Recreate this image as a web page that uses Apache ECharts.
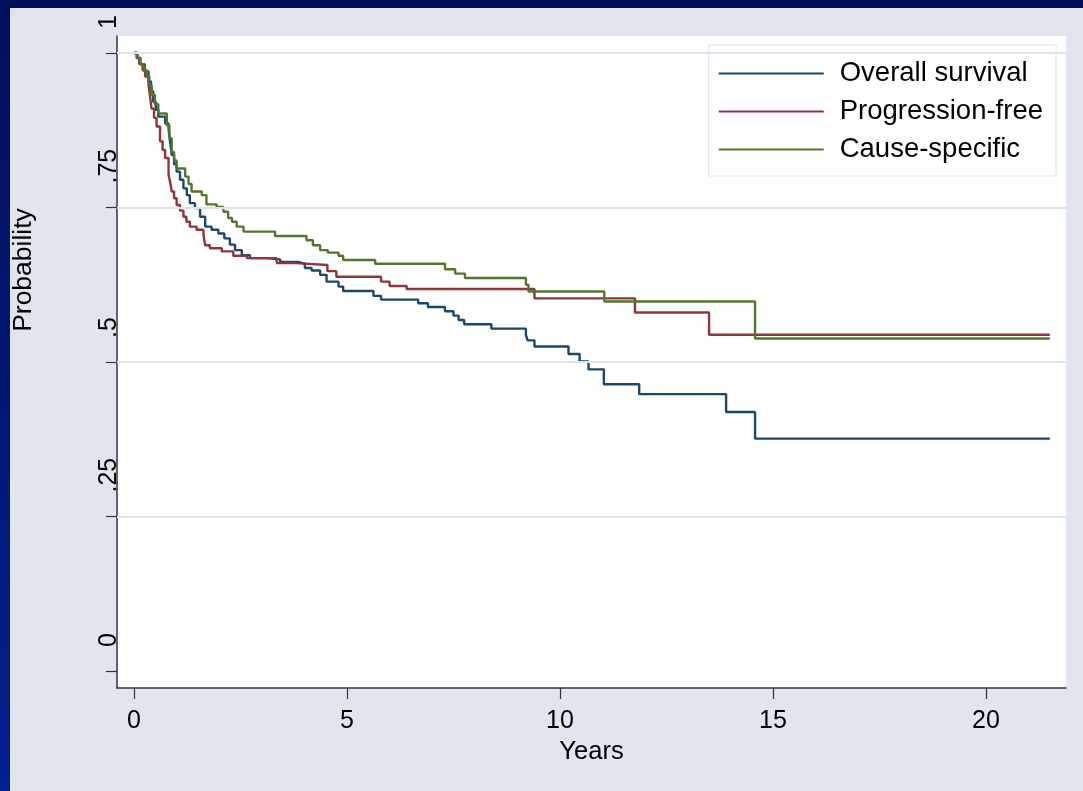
<!DOCTYPE html>
<html>
<head>
<meta charset="utf-8">
<script src="https://cdn.jsdelivr.net/npm/echarts@6/dist/echarts.min.js"></script>
<style>
  html, body { margin: 0; padding: 0; width: 1083px; height: 791px; overflow: hidden; background: #e0e5f0; }
  #topband { position: absolute; left: 0; top: 0; width: 1083px; height: 8px; background: #000f5a; }
  #leftband { position: absolute; left: 0; top: 0; width: 10px; height: 791px; background: linear-gradient(#000f5a, #00208f); }
  #chart { position: absolute; left: 0; top: 0; width: 1083px; height: 791px; }
</style>
</head>
<body>
<div id="topband"></div>
<div id="leftband"></div>
<div id="chart"></div>
<script>
// Kaplan-Meier estimates: [years, probability after the step]
const overallSurvival = [
  [0,1],[0.08,0.992],[0.15,0.982],[0.25,0.970],[0.34,0.954],[0.40,0.938],[0.45,0.921],[0.51,0.908],[0.57,0.897],[0.73,0.886],[0.81,0.878],
  [0.84,0.860],[0.885,0.835],[0.94,0.820],
  [1.0,0.808],[1.08,0.795],[1.16,0.781],[1.24,0.770],[1.31,0.757],[1.43,0.749],[1.55,0.735],[1.67,0.719],[1.82,0.714],
  [1.98,0.708],[2.12,0.700],[2.25,0.690],[2.37,0.681],[2.53,0.673],[2.72,0.668],[3.11,0.666],[3.43,0.662],
  [3.85,0.659],[4.01,0.652],[4.17,0.648],[4.37,0.641],[4.52,0.630],[4.80,0.622],[4.91,0.615],[5.62,0.607],
  [5.80,0.601],[6.67,0.595],[6.90,0.589],[7.30,0.582],[7.50,0.575],[7.62,0.568],[7.75,0.561],[8.39,0.554],
  [9.20,0.544],[9.24,0.535],[9.40,0.525],[10.20,0.513],[10.46,0.501],[10.67,0.488],[11.03,0.464],
  [11.86,0.448],[13.9,0.419],[14.58,0.376],[21.5,0.376]
];
const progressionFree = [
  [0,1],[0.06,0.992],[0.12,0.982],[0.20,0.972],[0.26,0.962],[0.34,0.948],[0.38,0.928],[0.41,0.910],[0.47,0.895],[0.53,0.881],[0.61,0.857],
  [0.67,0.843],[0.73,0.830],[0.81,0.803],[0.85,0.790],[0.885,0.776],[0.94,0.765],[1.0,0.754],[1.08,0.745],[1.16,0.735],[1.23,0.727],[1.31,0.719],
  [1.47,0.714],[1.63,0.706],[1.67,0.689],
  [1.78,0.684],[2.06,0.679],[2.33,0.672],[2.65,0.668],[3.35,0.660],[3.82,0.657],[4.54,0.647],[4.75,0.638],
  [5.80,0.630],[6.00,0.623],[6.40,0.618],[9.40,0.603],[11.76,0.580],[13.5,0.544],[21.5,0.544]
];
const causeSpecific = [
  [0,1],[0.08,0.992],[0.15,0.982],[0.23,0.972],[0.30,0.962],[0.36,0.947],[0.415,0.932],[0.49,0.917],[0.57,0.902],[0.77,0.883],
  [0.83,0.862],[0.885,0.840],[0.94,0.826],[1.0,0.813],
  [1.2,0.800],[1.28,0.788],[1.35,0.776],[1.59,0.770],[1.70,0.755],[1.94,0.751],[2.10,0.743],[2.21,0.733],[2.30,0.727],
  [2.41,0.719],[2.57,0.711],[3.31,0.704],[4.05,0.697],[4.20,0.689],[4.37,0.681],[4.55,0.677],[4.80,0.672],
  [4.91,0.665],[5.66,0.659],[7.30,0.650],[7.54,0.643],[7.77,0.636],[9.20,0.625],[9.26,0.614],[11.04,0.598],
  [14.58,0.538],[21.5,0.538]
];
const seriesNames = ['Overall survival', 'Progression-free', 'Cause-specific'];
const seriesColors = ['#1a476f', '#90353b', '#55752f'];
const xTicks = [0, 5, 10, 15, 20];
const yTicks = [0, 0.25, 0.5, 0.75, 1];
const yTickLabels = ['0', '.25', '.5', '.75', '1'];
const gridValues = [0.25, 0.5, 0.75, 1];

const FONT = "'Liberation Sans', Arial, Helvetica, sans-serif";
const chart = echarts.init(document.getElementById('chart'), null, { renderer: 'canvas' });
const seriesData = [overallSurvival, progressionFree, causeSpecific];

const option = {
  animation: false,
  backgroundColor: 'transparent',
  textStyle: { fontFamily: FONT },
  grid: { left: 117, right: 17, top: 36, bottom: 103, show: true, backgroundColor: '#ffffff', borderWidth: 0 },
  legend: {
    data: seriesNames,
    orient: 'vertical',
    right: 27, top: 45,
    icon: 'rect',
    itemWidth: 105, itemHeight: 2, itemGap: 7,
    padding: [13, 13, 11, 10],
    backgroundColor: '#ffffff', borderColor: '#dde2ef', borderWidth: 1,
    textStyle: { fontSize: 27.5, lineHeight: 31, color: '#000', fontFamily: FONT, padding: [0, 0, 0, 11] }
  },
  xAxis: {
    type: 'value', min: -0.4, max: 21.88,
    name: 'Years', nameLocation: 'middle', nameGap: 50,
    nameTextStyle: { fontSize: 25.5, color: '#000', fontFamily: FONT },
    axisLine: { show: true, onZero: false, lineStyle: { color: '#333', width: 1.5 } },
    axisTick: { show: true, length: 11, customValues: xTicks, lineStyle: { color: '#333', width: 1.2 } },
    axisLabel: { customValues: xTicks, fontSize: 25, color: '#000', margin: 21, fontFamily: FONT },
    splitLine: { show: false }
  },
  yAxis: {
    type: 'value', min: -0.0275, max: 1.0275,
    name: 'Probability', nameLocation: 'middle', nameRotate: 90, nameGap: 80,
    nameTextStyle: { fontSize: 26.5, color: '#000', fontFamily: FONT, padding: [0, 0, 0, 184] },
    axisLine: { show: true, onZero: false, lineStyle: { color: '#333', width: 1.5 } },
    axisTick: { show: true, length: 11, customValues: yTicks, lineStyle: { color: '#333', width: 1.2 } },
    axisLabel: {
      customValues: yTicks, rotate: 90, fontSize: 25, color: '#000', fontFamily: FONT,
      margin: -5, align: 'left', verticalAlign: 'bottom', padding: [0, 0, 0, 24],
      formatter: function (v) { const i = yTicks.indexOf(v); return i >= 0 ? yTickLabels[i] : ''; }
    },
    splitLine: { show: false }
  },
  series: [
    {
      type: 'line', name: '_grid', data: [], silent: true, z: 1,
      markLine: {
        silent: true, symbol: 'none', label: { show: false },
        lineStyle: { color: '#dde2ef', width: 2, type: 'solid' },
        data: gridValues.map(v => ({ yAxis: v }))
      }
    }
  ].concat(seriesData.map((d, i) => ({
    type: 'line', name: seriesNames[i], data: d, step: 'end', symbol: 'none', z: 3,
    color: seriesColors[i],
    lineStyle: { color: seriesColors[i], width: 2.4 }
  })))
};
chart.setOption(option);
</script>
</body>
</html>
